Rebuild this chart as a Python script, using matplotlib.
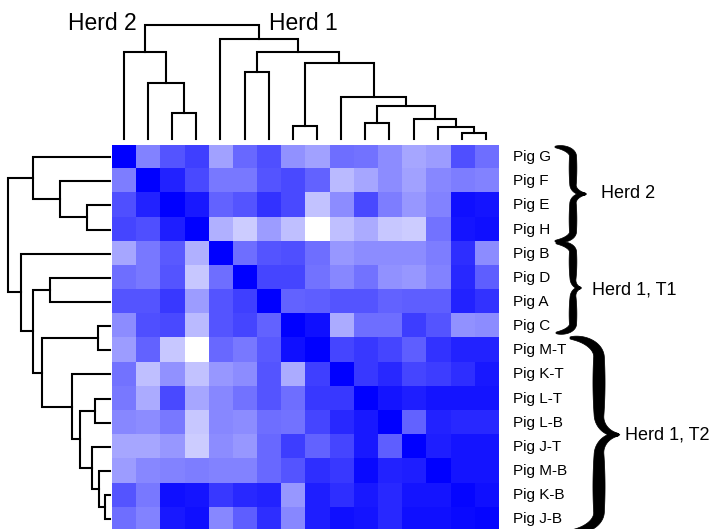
import matplotlib
matplotlib.use('Agg')
import matplotlib.pyplot as plt
from matplotlib.colors import LinearSegmentedColormap
from matplotlib.patches import Polygon
import numpy as np

plt.rcParams['font.family'] = ['Liberation Sans', 'DejaVu Sans']

pigs = ['Pig G', 'Pig F', 'Pig E', 'Pig H', 'Pig B', 'Pig D', 'Pig A', 'Pig C',
        'Pig M-T', 'Pig K-T', 'Pig L-T', 'Pig L-B', 'Pig J-T', 'Pig M-B',
        'Pig K-B', 'Pig J-B']

# similarity (0 = white, 1 = full blue), rows and columns in the pig order above
similarity = [
    [1.00, 0.49, 0.67, 0.75, 0.37, 0.59, 0.69, 0.43, 0.37, 0.57, 0.55, 0.45, 0.35, 0.39, 0.69, 0.57],
    [0.51, 1.00, 0.86, 0.71, 0.53, 0.53, 0.67, 0.71, 0.61, 0.27, 0.35, 0.45, 0.37, 0.47, 0.51, 0.49],
    [0.69, 0.86, 1.00, 0.90, 0.61, 0.67, 0.80, 0.71, 0.24, 0.45, 0.71, 0.51, 0.41, 0.49, 0.94, 0.92],
    [0.73, 0.69, 0.88, 1.00, 0.31, 0.20, 0.39, 0.25, 0.00, 0.25, 0.33, 0.22, 0.20, 0.55, 0.92, 0.94],
    [0.35, 0.53, 0.65, 0.31, 1.00, 0.57, 0.67, 0.69, 0.57, 0.41, 0.45, 0.45, 0.45, 0.51, 0.82, 0.45],
    [0.57, 0.53, 0.67, 0.22, 0.57, 1.00, 0.73, 0.73, 0.55, 0.47, 0.55, 0.43, 0.41, 0.49, 0.84, 0.63],
    [0.67, 0.67, 0.78, 0.39, 0.67, 0.75, 1.00, 0.61, 0.63, 0.67, 0.67, 0.61, 0.63, 0.63, 0.86, 0.80],
    [0.45, 0.69, 0.71, 0.27, 0.67, 0.73, 0.61, 1.00, 0.94, 0.33, 0.57, 0.57, 0.76, 0.67, 0.43, 0.45],
    [0.39, 0.61, 0.22, 0.00, 0.59, 0.53, 0.65, 0.94, 1.00, 0.73, 0.78, 0.73, 0.63, 0.80, 0.86, 0.86],
    [0.55, 0.25, 0.43, 0.24, 0.41, 0.45, 0.67, 0.33, 0.75, 1.00, 0.78, 0.84, 0.73, 0.76, 0.82, 0.90],
    [0.53, 0.33, 0.71, 0.35, 0.47, 0.55, 0.67, 0.57, 0.78, 0.78, 1.00, 0.92, 0.88, 0.92, 0.92, 0.92],
    [0.47, 0.45, 0.53, 0.22, 0.47, 0.45, 0.57, 0.55, 0.73, 0.84, 0.90, 1.00, 0.61, 0.86, 0.84, 0.84],
    [0.35, 0.35, 0.41, 0.20, 0.45, 0.41, 0.59, 0.76, 0.61, 0.73, 0.90, 0.63, 1.00, 0.88, 0.92, 0.92],
    [0.39, 0.47, 0.49, 0.51, 0.49, 0.49, 0.59, 0.67, 0.82, 0.78, 0.96, 0.86, 0.88, 1.00, 0.92, 0.92],
    [0.67, 0.53, 0.94, 0.92, 0.78, 0.84, 0.86, 0.41, 0.88, 0.82, 0.90, 0.84, 0.92, 0.92, 0.98, 0.94],
    [0.57, 0.49, 0.90, 0.94, 0.47, 0.63, 0.82, 0.47, 0.88, 0.94, 0.92, 0.84, 0.94, 0.94, 0.96, 0.98],
]

# linkage: (child a, child b, height); leaves 0-15, new nodes numbered from 16
linkage = [
    (2, 3, 78), (1, 16, 170), (0, 17, 261),
    (14, 15, 18), (13, 19, 38), (12, 20, 60), (10, 11, 50), (22, 21, 100),
    (9, 23, 128), (7, 8, 41), (25, 24, 230), (5, 6, 203), (27, 26, 261),
    (4, 28, 300), (18, 29, 343),
]

groups = [('Herd 2', 0, 3), ('Herd 1, T1', 4, 7), ('Herd 1, T2', 8, 15)]
top_labels = ['Herd 2', 'Herd 1']


def dendro_segments(links, n):
    pos = {i: float(i) for i in range(n)}
    hgt = {i: 0.0 for i in range(n)}
    segs = []
    for k, (a, b, h) in enumerate(links):
        node = n + k
        segs.append(([pos[a], pos[a], pos[b], pos[b]], [hgt[a], h, h, hgt[b]]))
        pos[node] = (pos[a] + pos[b]) / 2
        hgt[node] = h
    return segs


def brace(ax, y0, y1, xe, xb, xt, wmax):
    ym = (y0 + y1) / 2
    half = ym - y0
    re_y = 0.2 * half
    rt_y = 0.2 * half
    t = np.linspace(0, np.pi / 2, 40)
    x1 = xe + (xb - xe) * np.sin(t)
    y1_ = y0 + re_y - re_y * np.cos(t)
    ys = np.linspace(y0 + re_y, ym - rt_y, 40)[1:-1]
    xs = np.full_like(ys, xb)
    x3 = xt - (xt - xb) * np.cos(t)
    y3 = ym - rt_y + rt_y * np.sin(t)
    ux = np.concatenate([x1, xs, x3])
    uy = np.concatenate([y1_, ys, y3])
    seg = np.hypot(np.diff(ux), np.diff(uy))
    s = np.concatenate([[0], np.cumsum(seg)])
    s = s / s[-1]
    uw = wmax * (0.15 + 0.85 * np.sin(np.pi * s) ** 0.7)
    cx = np.concatenate([ux, ux[::-1][1:]])
    cy = np.concatenate([uy, (2 * ym - uy)[::-1][1:]])
    w = np.concatenate([uw, uw[::-1][1:]])
    tx = np.gradient(cx)
    ty = np.gradient(cy)
    nrm = np.hypot(tx, ty)
    nx, ny = -ty / nrm, tx / nrm
    left = np.column_stack([cx + nx * w / 2, cy + ny * w / 2])
    right = np.column_stack([cx - nx * w / 2, cy - ny * w / 2])
    poly = np.vstack([left, right[::-1]])
    ax.add_patch(Polygon(poly, closed=True, facecolor='black',
                         edgecolor='black', lw=0.5, clip_on=False))


W, H = 711, 529
fig = plt.figure(figsize=(W / 100, H / 100), dpi=100)

cell = 24.15
hm_left, hm_top = 111.7, 145.0
n = len(pigs)
hm_w = hm_h = n * cell
ax = fig.add_axes([hm_left / W, (H - hm_top - hm_h) / H, hm_w / W, hm_h / H])
cmap = LinearSegmentedColormap.from_list('wb', ['#ffffff', '#0000ff'])
ax.imshow(np.array(similarity), cmap=cmap, vmin=0, vmax=1,
          interpolation='nearest', aspect='auto')
ax.set_xlim(-0.5, n - 0.5)
ax.set_ylim(n - 0.5, -0.5)
ax.axis('off')

for i, p in enumerate(pigs):
    ax.text(16.12, i, p, fontsize=11, va='center', ha='left', clip_on=False)


# braces, in heatmap cell units
def px_x(px):
    return (px - hm_left) / cell - 0.5


brace(ax, -0.42, 3.48, px_x(555), px_x(573), px_x(586), 0.32)
brace(ax, 3.56, 7.28, px_x(556), px_x(573), px_x(581), 0.32)
brace(ax, 7.49, 15.5, px_x(570), px_x(599), px_x(619), 0.5)
text_x = [px_x(601), px_x(592), px_x(625)]
for (name, a, b), tx in zip(groups, text_x):
    ax.text(tx, (a + b) / 2, name, fontsize=13, va='center', ha='left',
            clip_on=False)

segs = dendro_segments(linkage, n)
root_h = max(h for _, _, h in linkage)

# top dendrogram
top_bot, top_top = 139.3, 25.0
axt = fig.add_axes([hm_left / W, (H - top_bot) / H, hm_w / W, (top_bot - top_top) / H])
for xs, ys in segs:
    axt.plot(xs, ys, color='black', lw=1.5, clip_on=False,
             solid_joinstyle='miter')
axt.set_xlim(-0.5, n - 0.5)
axt.set_ylim(0, root_h)
axt.axis('off')

# left dendrogram
l_root, l_leaf = 8.3, 110.0
axl = fig.add_axes([l_root / W, (H - hm_top - hm_h) / H, (l_leaf - l_root) / W, hm_h / H])
for xs, ys in segs:
    axl.plot(ys, xs, color='black', lw=1.5, clip_on=False,
             solid_joinstyle='miter')
axl.set_xlim(root_h, 0)
axl.set_ylim(n - 0.5, -0.5)
axl.axis('off')

fig.text(67.7 / W, 1 - 23 / H, top_labels[0], fontsize=16.5, va='center', ha='left')
fig.text(269 / W, 1 - 23 / H, top_labels[1], fontsize=16.5, va='center', ha='left')

fig.savefig('out.png', dpi=100)
